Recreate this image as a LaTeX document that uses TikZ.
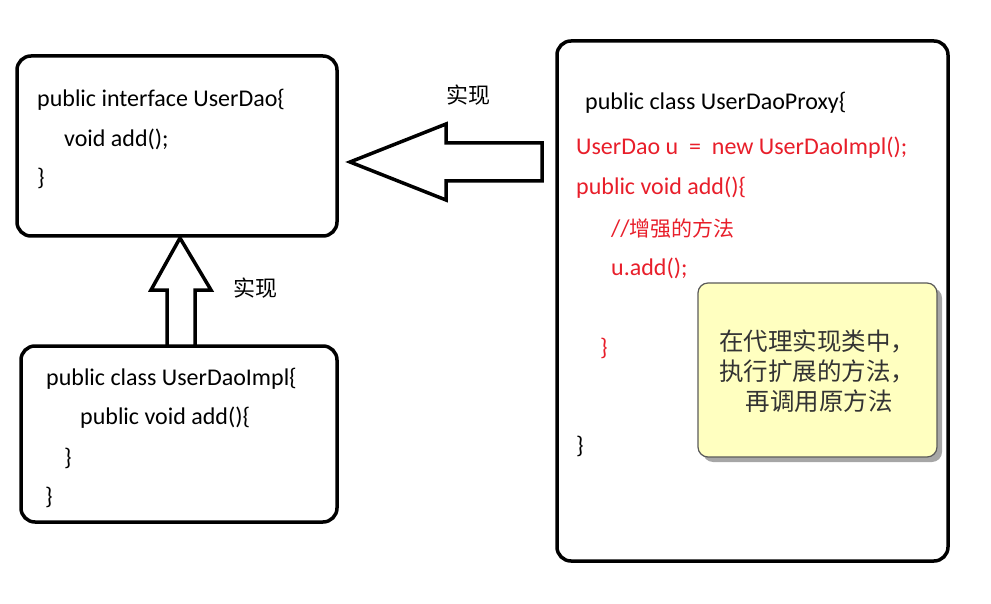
\documentclass[tikz,border=0pt]{standalone}
\usepackage{fontspec}
\setmainfont{Carlito}
\newfontfamily\cjk{Noto Sans CJK SC}
\usepackage{tikz}
\usepackage{xcolor}
\definecolor{codered}{RGB}{232,30,42}
\definecolor{noteyellow}{RGB}{255,255,192}
\definecolor{notegray}{RGB}{90,90,90}

\tikzset{
  codebox/.style={line width=3.5pt,rounded corners=14pt},
  codeline/.style={anchor=west,inner sep=0pt,font=\fontsize{24}{28}\selectfont},
  hollowarrow/.style={line width=3.5pt,fill=white,line join=miter},
  tag/.style={font=\cjk\fontsize{22}{26}\selectfont,inner sep=0pt}
}

\begin{document}
\begin{tikzpicture}[x=1pt,y=-1pt]
        \useasboundingbox (0,0) rectangle (991,604);

        % boxes
        \draw[codebox] (17,56) rectangle (337,236);
        \draw[codebox] (21,346) rectangle (337,522);
        \draw[codebox] (557,41) rectangle (948,561);

        % interface
        \node[codeline] (ifc1) at (37,100) {public interface UserDao\{};
        \node[codeline] (ifc2) at (64,139) {void add();};
        \node[codeline] (ifc3) at (37,178) {\}};

        % implementation
        \node[codeline] (impl1) at (46,379) {public class UserDaoImpl\{};
        \node[codeline] (impl2) at (80,418) {public void add()\{};
        \node[codeline] (impl3) at (64,458) {\}};
        \node[codeline] (impl4) at (45,497) {\}};

        % proxy
        \node[codeline] (prx1) at (585,103) {public class UserDaoProxy\{};
        \node[codeline,codered] (prx2) at (576,148) {UserDao u \ = \ new UserDaoImpl();};
        \node[codeline,codered] (prx3) at (576,188) {public void add()\{};
        \node[codeline,codered] (prx4) at (611,229) {//{\cjk\fontsize{21}{24}\selectfont 增强的方法}};
        \node[codeline,codered] (prx5) at (611,268) {u.add();};
        \node[codeline,codered] (prx6) at (600,348) {\}};
        \node[codeline] (prx7) at (576,446) {\}};

        % arrows
        \draw[hollowarrow] (350,162) -- (446,124) -- (446,143) -- (542,143)
          -- (542,181) -- (446,181) -- (446,200) -- cycle;
        \draw[hollowarrow] (180,238) -- (211,290) -- (195,290) -- (195,346)
          -- (167,346) -- (167,290) -- (151,290) -- cycle;
        \node[tag] (impltag1) at (468,95) {实现};
        \node[tag] (impltag2) at (255,288) {实现};

        % note
        \fill[gray!70,rounded corners=10pt] (703,288) rectangle (942,462);
        \draw[notegray,fill=noteyellow,line width=1.2pt,rounded corners=10pt]
          (698,283) rectangle (937,457);
        \node[font=\cjk\fontsize{24.5}{30}\selectfont,align=left,inner sep=0pt,
          text=black!80] (note) at (817,371)
          {在代理实现类中，\\执行扩展的方法，\\\hspace*{1.1em}再调用原方法};
\end{tikzpicture}
\end{document}
